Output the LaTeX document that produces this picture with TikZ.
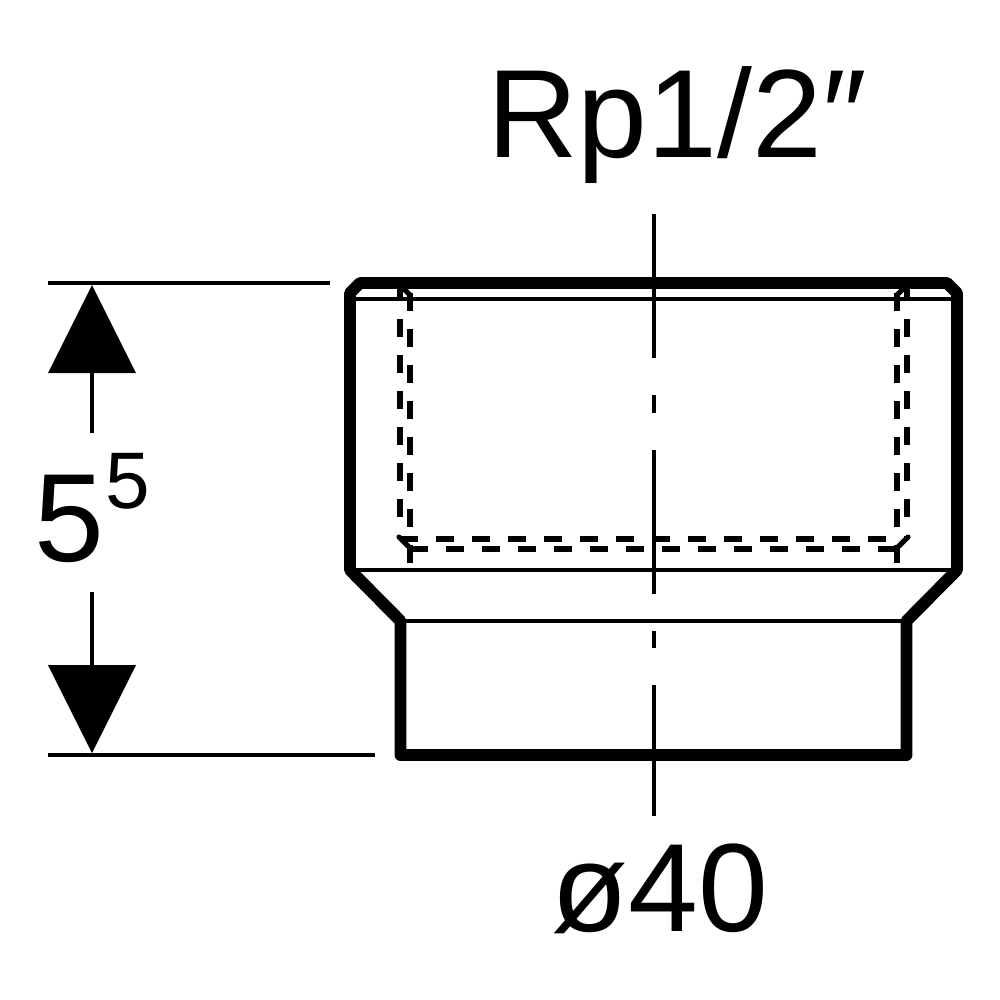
\documentclass[tikz,border=0pt]{standalone}
\usepackage{fontspec}
\setmainfont{Liberation Sans}
\usetikzlibrary{positioning, calc}
\tikzset{
    outline/.style={line width=3.4pt, line join=round, line cap=round},
    thinline/.style={line width=1pt},
    hidden/.style={line width=1.45pt, dash pattern=on 0.18cm off 0.18cm},
    hiddencorner/.style={line width=1.45pt, line cap=round},
    axis/.style={line width=1.1pt},
    dimline/.style={line width=1.1pt},
    dimtip/.style={fill=black},
    label/.style={inner sep=0pt, anchor=base, font=\fontsize{35.7pt}{42pt}\selectfont}
}

\begin{document}
\begin{tikzpicture}[x=0.01cm, y=-0.01cm]
    \useasboundingbox (0,0) rectangle (1000,1000);

    % Outline corners
    \coordinate (topL) at (360,283);
    \coordinate (topR) at (947,283);
    \coordinate (shL) at (350,293);
    \coordinate (shR) at (957,293);
    \coordinate (waistL) at (350,570);
    \coordinate (waistR) at (957,570);
    \coordinate (neckL) at (400.5,621);
    \coordinate (neckR) at (906.5,621);
    \coordinate (baseL) at (400.5,755);
    \coordinate (baseR) at (906.5,755);

    % Body
    \draw [outline] (topL) -- (topR) -- (shR) -- (waistR) -- (neckR) -- (baseR) -- (baseL) -- (neckL) -- (waistL) -- (shL) -- cycle;
    \draw [thinline] (350,299) -- (957,299);
    \draw [thinline] (waistL) -- (waistR);
    \draw [thinline] (neckL) -- (neckR);

    % Hidden thread
    \draw [hidden] (400,283) -- (400,518);
    \draw [hidden] (907,283) -- (907,518);
    \draw [hidden] (410,293) -- (410,564);
    \draw [hidden] (897,293) -- (897,564);
    \draw [hidden] (400,539) -- (907,539);
    \draw [hidden] (410,549) -- (898,549);
    \draw [hiddencorner] (402,287) -- (410,295);
    \draw [hiddencorner] (905,287) -- (897,295);
    \draw [hiddencorner] (399,537) -- (410,548);
    \draw [hiddencorner] (908,537) -- (897,548);

    % Centre line
    \coordinate (axisT) at (654,214);
    \coordinate (axisB) at (654,816);
    \draw [axis, dash pattern=on 41pt off 10.5pt on 5pt off 10.5pt] (axisT) -- (axisB);

    % Height dimension
    \draw [dimline] (48,283) -- (330,283);
    \draw [dimline] (48,755) -- (375,755);
    \node (hgt) [label, anchor=base west] at (34,561) {5\kern0.3pt\raisebox{15pt}{\fontsize{22.8pt}{28pt}\selectfont 5}};
    \coordinate (tipT) at (92,285);
    \coordinate (tipB) at (92,753);
    \fill [dimtip] (tipT) -- (136,373) -- (48,373) -- cycle;
    \fill [dimtip] (tipB) -- (136,665) -- (48,665) -- cycle;
    \draw [dimline] (92,373) -- (92,433);
    \draw [dimline] (92,592) -- (92,665);

    % Labels
    \node (thread) [label] at (677,157) {Rp1/2″};
    \node (dia) [label] at (660,931) {ø40};

\end{tikzpicture}
\end{document}
